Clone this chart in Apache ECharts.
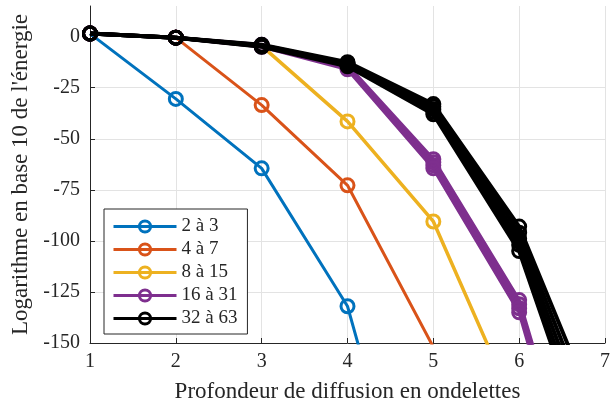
<!DOCTYPE html>
<html><head><meta charset="utf-8">
<script src="https://cdn.jsdelivr.net/npm/echarts@6/dist/echarts.min.js"></script>
<style>html,body{margin:0;padding:0;background:#fff}#c{width:616px;height:408px}</style>
</head><body><div id="c"></div>
<script>
// Wavelet scattering depth (x) vs log10 energy (y)
const depths = [1, 2, 3, 4, 5, 6, 7];
const groupNames = ['2 à 3', '4 à 7', '8 à 15', '16 à 31', '32 à 63'];
const groupColors = ['#0072BD', '#D95319', '#EDB120', '#7E2F8E', '#000000'];
const yTicks = [-150, -125, -100, -75, -50, -25, 0];
const xTicks = [1, 2, 3, 4, 5, 6, 7];

// each group: several curves (values at depths 1..7)
const lines_2_3 = [
  [1.5, -30.5, -64.5, -132, -282]
];
const lines_4_7 = [
  [1.5, -0.5, -33.5, -72.8, -152, -262]
];
const lines_8_15 = [
  [1.5, -0.5, -4.5, -41.5, -90.5, -186]
];
const lines_16_31 = [
  [1.5, -0.5, -4.0, -14.0, -60.0, -129, -270],
  [1.5, -0.5, -4.3, -14.7, -61.5, -131, -274],
  [1.5, -0.5, -4.7, -15.3, -63.0, -133, -277],
  [1.5, -0.5, -5.0, -16.0, -64.5, -135, -280]
];
const lines_32_63 = [
  [1.5, -0.5, -4.0, -12.5, -33.0, -93, -195],
  [1.5, -0.5, -4.2, -13.0, -34.2, -96, -203],
  [1.5, -0.5, -4.5, -13.5, -35.5, -99, -211],
  [1.5, -0.5, -4.7, -14.0, -36.8, -102, -219],
  [1.5, -0.5, -5.0, -14.5, -38.0, -105, -227]
];
const groupLines = [lines_2_3, lines_4_7, lines_8_15, lines_16_31, lines_32_63];
const groupWidths = [3, 3, 3.5, 3.5, 4];

const FONT = 'Liberation Serif';
const series = [];
groupLines.forEach((lines, g) => {
  lines.forEach(vals => {
    series.push({
      type: 'line',
      name: groupNames[g],
      data: vals.map((v, i) => [depths[i], v]),
      symbol: 'circle',
      symbolSize: 13,
      showAllSymbol: true,
      clip: true,
      lineStyle: { color: groupColors[g], width: groupWidths[g] },
      itemStyle: { color: 'rgba(255,255,255,0)', borderColor: groupColors[g], borderWidth: 3 },
      emphasis: { disabled: true },
      animation: false,
      z: 2 + g
    });
  });
});

const chart = echarts.init(document.getElementById('c'), null, { renderer: 'canvas' });
chart.setOption({
  backgroundColor: '#fff',
  animation: false,
  grid: { left: 90, right: 11, top: 6, bottom: 62, containLabel: false },
  xAxis: {
    type: 'value', min: 1, max: 7, interval: 1,
    name: 'Profondeur de diffusion en ondelettes',
    nameLocation: 'middle', nameGap: 37,
    nameTextStyle: { fontFamily: FONT, fontSize: 23, color: '#262626' },
    axisLine: { show: true, onZero: false, lineStyle: { color: '#262626', width: 1 } },
    axisTick: { show: true, inside: true, length: 5, lineStyle: { color: '#262626' } },
    axisLabel: { fontFamily: FONT, fontSize: 20, color: '#262626', margin: 9, customValues: xTicks },
    splitLine: { show: true, lineStyle: { color: '#e3e3e3', width: 1 } }
  },
  yAxis: {
    type: 'value', min: -150, max: 15, interval: 25,
    name: "Logarithme en base 10 de l'énergie",
    nameLocation: 'middle', nameGap: 57,
    nameTextStyle: { fontFamily: FONT, fontSize: 23, color: '#262626' },
    axisLine: { show: true, onZero: false, lineStyle: { color: '#262626', width: 1 } },
    axisTick: { show: true, inside: true, length: 5, lineStyle: { color: '#262626' }, customValues: yTicks },
    axisLabel: { fontFamily: FONT, fontSize: 20, color: '#262626', margin: 10, customValues: yTicks },
    splitLine: { show: true, showMaxLine: false, lineStyle: { color: '#e3e3e3', width: 1 } }
  },
  legend: {
    data: groupNames,
    orient: 'vertical',
    left: 104, top: 209,
    padding: [8, 10, 6, 8],
    itemWidth: 63, itemHeight: 14, itemGap: 4,
    backgroundColor: '#fff',
    borderColor: '#262626', borderWidth: 1, borderRadius: 0,
    lineStyle: { width: 3 },
    itemStyle: { borderWidth: 3 },
    textStyle: { fontFamily: FONT, fontSize: 19, color: '#262626' },
    selectedMode: false
  },
  series: series
});
</script>
</body></html>
